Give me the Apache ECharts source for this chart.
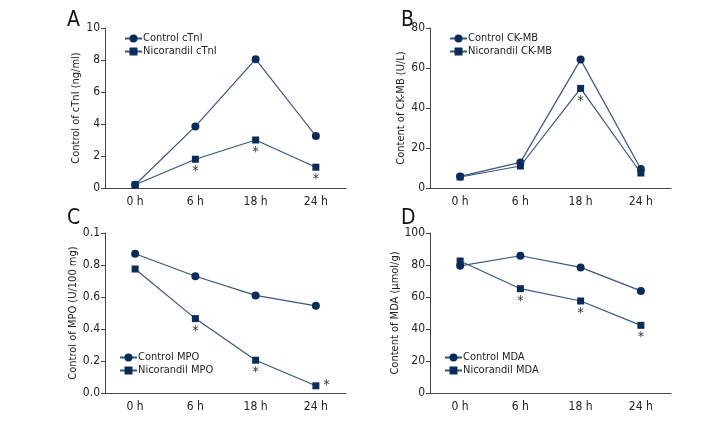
<!DOCTYPE html>
<html>
<head>
<meta charset="utf-8">
<script src="https://cdn.jsdelivr.net/npm/echarts@6/dist/echarts.min.js"></script>
<style>
  html, body { margin: 0; padding: 0; background: #fff; }
  #main { width: 720px; height: 432px; }
</style>
</head>
<body>
<div id="main"></div>
<script>
// time points
var hours = ['0 h', '6 h', '18 h', '24 h'];

// A: cTnI
var ctniControl = [0.2, 3.85, 8.05, 3.25];
var ctniNico = [0.2, 1.8, 3.0, 1.3];
var ctniSig = [0, 1, 1, 1];

// B: CK-MB
var ckmbControl = [5.8, 12.8, 64.2, 9.5];
var ckmbNico = [5.5, 11.0, 49.8, 7.5];
var ckmbSig = [0, 0, 1, 0];

// C: MPO
var mpoControl = [0.87, 0.73, 0.61, 0.545];
var mpoNico = [0.775, 0.465, 0.205, 0.045];
var mpoSig = [0, 1, 1, 2];   // 2 = star on the right side
var mpoTicks = ['0.0', '0.2', '0.4', '0.6', '0.8', '0.1'];

// D: MDA
var mdaControl = [79.5, 85.8, 78.5, 63.8];
var mdaNico = [82.5, 65.2, 57.5, 42.3];
var mdaSig = [0, 1, 1, 1];

var font = '"Liberation Sans Narrow", "DejaVu Sans Condensed", sans-serif';
var markColor = '#0b2c58';
var lineColor = '#38557c';
var axisColor = '#444';
var textColor = '#222';

var myChart = echarts.init(document.getElementById('main'));

// one grid per panel
var grids = [
    { left: 105, top: 28, width: 241, height: 160 },
    { left: 430, top: 28, width: 241, height: 160 },
    { left: 105, top: 233, width: 241, height: 160 },
    { left: 430, top: 233, width: 241, height: 160 }
];

function xAxisFor(i) {
    return {
        type: 'category',
        gridIndex: i,
        data: hours,
        boundaryGap: true,
        axisLine: { lineStyle: { color: axisColor, width: 1 } },
        axisTick: { alignWithLabel: true, length: 4, lineStyle: { color: axisColor } },
        axisLabel: { color: textColor, fontFamily: font, fontSize: 12, margin: 8 },
        splitLine: { show: false }
    };
}

function yAxisFor(i, name, max, interval, fmt) {
    return {
        type: 'value',
        gridIndex: i,
        min: 0,
        max: max,
        interval: interval,
        name: name,
        nameLocation: 'middle',
        nameGap: 23,
        nameTextStyle: { color: textColor, fontFamily: font, fontSize: 11 },
        axisLine: { show: true, lineStyle: { color: axisColor, width: 1 } },
        axisTick: { show: true, length: 4, lineStyle: { color: axisColor } },
        axisLabel: { color: textColor, fontFamily: font, fontSize: 12, margin: 5, formatter: fmt },
        splitLine: { show: false }
    };
}

// asterisk labels on the nicorandil points
function withStars(values, sig) {
    return values.map(function (v, k) {
        if (!sig[k]) return v;
        return {
            value: v,
            label: {
                show: true,
                formatter: '*',
                position: sig[k] === 2 ? 'right' : 'bottom',
                distance: sig[k] === 2 ? 4 : 2,
                fontFamily: font,
                fontSize: 14,
                color: '#333'
            }
        };
    });
}

function lineSeries(i, name, values, symbol, size) {
    return {
        name: name,
        type: 'line',
        xAxisIndex: i,
        yAxisIndex: i,
        data: values,
        symbol: symbol,
        symbolSize: size,
        showAllSymbol: true,
        lineStyle: { color: lineColor, width: 1.2 },
        itemStyle: { color: markColor },
        emphasis: { disabled: true },
        z: symbol === 'circle' ? 3 : 4
    };
}

function legendFor(left, top, names) {
    return {
        left: left,
        top: top,
        orient: 'vertical',
        data: names,
        itemWidth: 17,
        itemHeight: 10,
        itemGap: 2,
        textStyle: { color: textColor, fontFamily: font, fontSize: 11, padding: [0, 0, 0, -4] },
        selectedMode: false
    };
}

function panelTitle(text, left, top) {
    return {
        text: text,
        left: left,
        top: top,
        textStyle: { color: '#111', fontFamily: font, fontSize: 21, fontWeight: 'normal' }
    };
}

var option = {
    animation: false,
    backgroundColor: '#fff',
    title: [
        panelTitle('A', 62, 5),
        panelTitle('B', 396, 5),
        panelTitle('C', 62, 203),
        panelTitle('D', 396, 203)
    ],
    legend: [
        legendFor(119, 28, ['Control cTnI', 'Nicorandil cTnI']),
        legendFor(444, 28, ['Control CK-MB', 'Nicorandil CK-MB']),
        legendFor(114, 347, ['Control MPO', 'Nicorandil MPO']),
        legendFor(439, 347, ['Control MDA', 'Nicorandil MDA'])
    ],
    grid: grids,
    xAxis: [xAxisFor(0), xAxisFor(1), xAxisFor(2), xAxisFor(3)],
    yAxis: [
        yAxisFor(0, 'Control of cTnI (ng/ml)', 10, 2),
        yAxisFor(1, 'Content of CK-MB (U/L)', 80, 20),
        yAxisFor(2, 'Control of MPO (U/100 mg)', 1, 0.2, function (v) {
            return mpoTicks[Math.round(v / 0.2)];
        }),
        yAxisFor(3, 'Content of MDA (μmol/g)', 100, 20)
    ],
    series: [
        lineSeries(0, 'Control cTnI', ctniControl, 'circle', 8),
        lineSeries(0, 'Nicorandil cTnI', withStars(ctniNico, ctniSig), 'rect', 7),
        lineSeries(1, 'Control CK-MB', ckmbControl, 'circle', 8),
        lineSeries(1, 'Nicorandil CK-MB', withStars(ckmbNico, ckmbSig), 'rect', 7),
        lineSeries(2, 'Control MPO', mpoControl, 'circle', 8),
        lineSeries(2, 'Nicorandil MPO', withStars(mpoNico, mpoSig), 'rect', 7),
        lineSeries(3, 'Control MDA', mdaControl, 'circle', 8),
        lineSeries(3, 'Nicorandil MDA', withStars(mdaNico, mdaSig), 'rect', 7)
    ]
};

myChart.setOption(option);
window.addEventListener('resize', function () {
    myChart.resize();
});
</script>
</body>
</html>
